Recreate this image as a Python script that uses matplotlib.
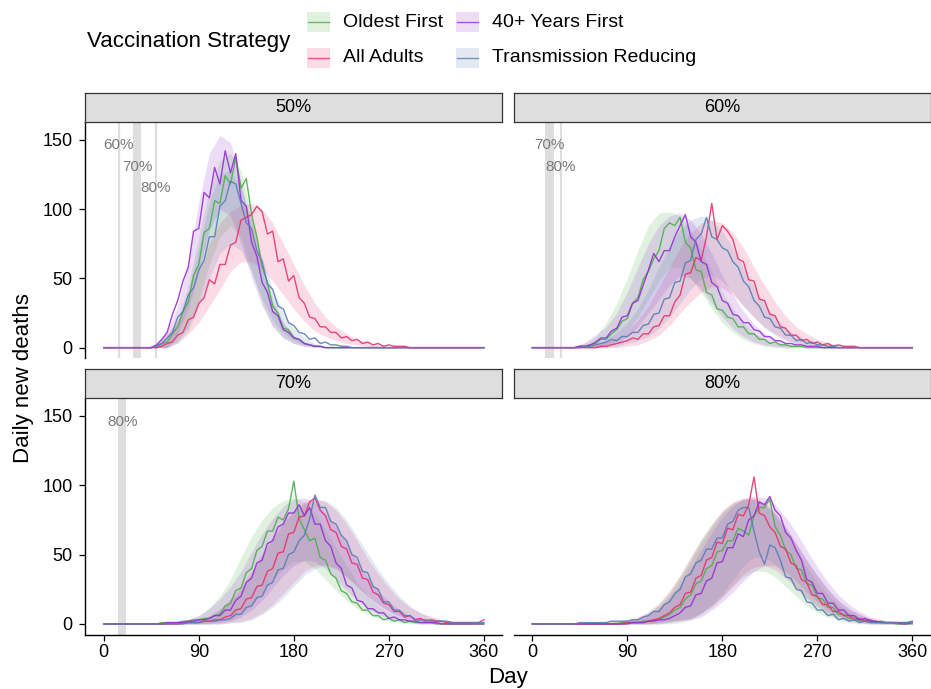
import numpy as np
import matplotlib
matplotlib.use("Agg")
import matplotlib.pyplot as plt
from matplotlib.patches import Rectangle

plt.rcParams['font.family'] = ['Liberation Sans', 'DejaVu Sans']

# ---------------- data ----------------
strategies = ["Oldest First", "All Adults", "40+ Years First", "Transmission Reducing"]
colors = ["#4daf4a", "#e8336e", "#9530d6", "#5a7db5"]
panels = ["50%", "60%", "70%", "80%"]

days = np.arange(0, 361, 5)          # line samples
ribbon_days = np.arange(0, 361, 10)  # ribbon samples

# daily deaths (median), panel 50%
oldest_50 = [0,0,0,0,0,0,0,0,0,0, 1,3,4,10,15,26,33,52,60,83, 86,106,104,124,118,137,115,122,96,80,
             58,47,30,25,14,13,7,6,3,2, 1,1,0,0,0,0,0,0,0,0, 0,0,0,0,0,0,0,0,0,0, 0,0,0,0,0,0,0,0,0,0, 0,0,0]
adults_50 = [0,0,0,0,0,0,0,0,0,0, 0,1,3,4,9,11,20,22,32,36, 49,46,60,60,74,76,92,94,96,102,
             98,82,84,62,64,48,52,36,32,22, 21,15,15,11,11,7,8,5,6,3, 4,2,3,1,2,1,1,1,0,0, 0,0,0,0,0,0,0,0,0,0, 0,0,0]
forty_50 = [0,0,0,0,0,0,0,0,0,0, 2,6,11,24,34,48,58,84,86,112, 108,130,118,142,126,140,106,102,76,66,
            47,40,26,23,13,11,7,6,3,2, 1,1,0,0,0,0,0,0,0,0, 0,0,0,0,0,0,0,0,0,0, 0,0,0,0,0,0,0,0,0,0, 0,0,0]
trans_50 = [0,0,0,0,0,0,0,0,0,0, 1,3,7,11,22,26,38,43,56,63, 80,80,102,106,120,118,104,90,86,70,
            62,46,42,30,28,18,16,11,10,6, 7,3,4,2,2,1,1,0,0,0, 0,0,0,0,0,0,0,0,0,0, 0,0,0,0,0,0,0,0,0,0, 0,0,0]

# panel 60%
oldest_60 = [0,0,0,0,0,0,0,0,0,1, 1,2,3,6,6,10,13,19,21,32, 36,49,55,64,70,86,90,88,94,76,
             72,56,55,40,38,28,27,22,21,15, 15,10,10,6,6,3,4,2,2,1, 1,1,0,0,0,0,0,0,0,0, 0,0,0,0,0,0,0,0,0,0, 0,0,0]
adults_60 = [0,0,0,0,0,0,0,0,0,0, 0,0,0,1,1,2,3,4,5,7, 6,10,10,15,16,23,23,33,38,53,
             54,65,63,80,104,78,88,84,78,64, 62,49,48,35,34,24,23,15,14,9, 9,5,6,3,4,2,3,1,2,1, 1,1,0,0,0,0,0,0,0,0, 0,0,0]
forty_60 = [0,0,0,0,0,0,0,0,0,1, 1,2,4,7,7,12,14,22,23,32, 34,45,56,68,62,70,70,80,88,96,
            80,76,62,60,47,44,34,32,24,23, 18,18,13,12,8,8,5,5,3,3, 2,2,1,1,1,0,0,0,0,0, 0,0,0,0,0,0,0,0,0,0, 0,0,0]
trans_60 = [0,0,0,0,0,0,0,0,0,0, 1,1,2,3,4,6,5,8,8,11, 11,16,17,24,25,35,36,47,48,61,
            63,78,82,94,80,78,72,70,62,58, 48,44,34,30,22,21,15,14,9,9, 5,6,3,4,2,2,1,1,0,0, 0,0,0,0,0,0,0,0,0,0, 0,0,0]

# panel 70%
oldest_70 = [0,0,0,0,0,0,0,0,0,0, 0,1,1,1,1,2,2,3,3,4, 4,6,7,13,15,24,26,37,40,53,
             56,67,67,77,75,83,103,76,68,60, 62,48,46,36,33,24,22,16,15,10, 10,6,6,3,4,2,3,1,2,1, 1,1,1,0,0,0,0,0,0,0, 0,0,0]
adults_70 = [0,0,0,0,0,0,0,0,0,0, 0,0,0,0,0,1,1,1,1,2, 2,3,3,5,6,10,11,18,19,27,
             28,38,40,51,52,65,66,77,78,88, 91,82,78,68,66,56,54,44,43,33, 32,23,21,15,14,9,9,5,6,3, 4,2,3,2,2,1,1,1,1,1, 1,1,3]
forty_70 = [0,0,0,0,0,0,0,0,0,0, 0,0,1,1,1,1,2,2,3,3, 4,6,6,10,10,17,20,30,33,44,
            46,58,60,70,72,80,80,86,78,84, 72,72,60,56,44,40,28,26,17,16, 11,11,8,8,4,5,3,3,2,2, 1,1,1,1,0,0,0,0,0,0, 0,0,0]
trans_70 = [0,0,0,0,0,0,0,0,0,0, 0,0,0,0,0,0,1,1,1,2, 2,2,3,3,4,7,7,12,13,19,
            20,28,30,39,40,50,52,60,64,76, 93,84,84,74,72,64,60,50,48,38, 37,27,25,16,16,10,10,6,6,3, 3,3,2,2,2,2,1,1,1,1, 1,1,1]

# panel 80%
oldest_80 = [0,0,0,0,0,0,0,0,0,0, 0,0,0,0,0,0,0,1,1,1, 1,2,2,3,3,5,7,10,12,18,
             21,29,31,40,42,52,53,60,60,69, 67,64,78,84,84,90,70,64,53,50, 40,39,29,28,19,18,12,12,7,7, 4,5,2,3,1,2,1,1,1,0, 0,0,0]
adults_80 = [0,0,0,0,0,0,0,0,0,0, 0,0,0,0,0,0,0,0,1,1, 1,1,2,3,4,6,8,12,14,22,
             23,33,35,46,48,59,58,69,68,79, 78,86,106,80,78,70,66,56,54,44, 42,32,30,21,20,14,14,9,9,6, 6,3,4,2,3,1,2,1,1,1, 1,1,2]
forty_80 = [0,0,0,0,0,0,0,0,0,0, 0,0,0,0,0,0,0,0,0,1, 1,1,2,2,3,3,4,6,8,12,
            13,21,22,31,33,44,45,55,55,65, 63,75,78,88,86,92,82,78,66,62, 53,46,32,30,22,22,15,15,10,10, 6,6,3,4,2,2,1,1,1,1, 0,0,1]
trans_80 = [0,0,0,0,0,0,0,0,0,1, 1,1,1,1,1,2,2,2,2,3, 3,5,6,9,9,14,16,22,25,34,
            36,44,46,54,54,62,62,72,74,82, 84,84,67,52,43,57,55,46,34,33, 25,24,16,15,10,10,6,7,3,4, 2,3,1,2,1,1,1,1,1,1, 1,1,1]

# ribbons (lower / upper), every 10 days
oldest_50_lo = [0,0,0,0,0,0,0, 5,15,35,60,80,88,80,55,32,16,7,3,1,0, 0,0,0,0,0,0,0,0,0,0,0,0,0,0,0,0]
oldest_50_hi = [0,0,0,0,0,1,4, 20,45,80,115,135,140,128,95,60,35,18,8,3,1, 0,0,0,0,0,0,0,0,0,0,0,0,0,0,0,0]
adults_50_lo = [0,0,0,0,0,0,0, 3,10,18,30,42,55,62,62,57,48,38,28,19,12, 8,5,3,2,1,0,0,0,0,0,0,0,0,0,0,0]
adults_50_hi = [0,0,0,0,0,3,10, 20,35,55,75,90,98,103,104,100,90,75,60,45,32, 22,15,10,6,4,2,1,1,0,0,0,0,0,0,0,0]
forty_50_lo = [0,0,0,0,0,0,0, 10,28,55,85,100,95,75,50,30,15,7,3,1,0, 0,0,0,0,0,0,0,0,0,0,0,0,0,0,0,0]
forty_50_hi = [0,0,0,0,0,3,12, 30,62,105,140,153,148,120,85,55,32,18,9,4,2, 0,0,0,0,0,0,0,0,0,0,0,0,0,0,0,0]
trans_50_lo = [0,0,0,0,0,0,0, 4,12,30,50,68,75,70,55,35,20,10,5,2,1, 0,0,0,0,0,0,0,0,0,0,0,0,0,0,0,0]
trans_50_hi = [0,0,0,0,0,2,8, 18,40,72,105,125,128,115,92,65,42,25,14,7,3, 1,1,0,0,0,0,0,0,0,0,0,0,0,0,0,0]

oldest_60_lo = [0,0,0,0,0,0,0, 2,5,12,22,35,48,58,58,50,40,28,18,11,6, 3,1,0,0,0,0,0,0,0,0,0,0,0,0,0,0]
oldest_60_hi = [0,0,0,0,1,3,8, 18,32,50,70,88,97,98,95,85,70,55,40,28,18, 11,6,3,2,1,0,0,0,0,0,0,0,0,0,0,0]
adults_60_lo = [0,0,0,0,0,0,0, 0,0,1,2,5,9,16,25,33,40,44,43,38,30, 22,15,10,6,3,2,1,0,0,0,0,0,0,0,0,0]
adults_60_hi = [0,0,0,0,0,1,2, 4,7,12,20,30,44,58,72,83,90,92,90,83,72, 58,45,33,23,15,10,6,4,2,1,0,0,0,0,0,0]
forty_60_lo = [0,0,0,0,0,0,0, 1,3,8,15,25,35,45,52,50,42,32,22,14,8, 4,2,1,0,0,0,0,0,0,0,0,0,0,0,0,0]
forty_60_hi = [0,0,0,0,1,4,9, 15,25,40,58,75,88,95,97,92,82,68,52,38,26, 17,10,6,3,2,1,0,0,0,0,0,0,0,0,0,0]
trans_60_lo = [0,0,0,0,0,0,0, 0,1,3,5,8,14,22,32,42,50,52,48,40,30, 22,14,9,5,3,1,0,0,0,0,0,0,0,0,0,0]
trans_60_hi = [0,0,0,0,0,1,3, 6,11,18,28,42,58,73,85,92,95,92,84,72,58, 44,32,22,14,9,5,3,2,1,0,0,0,0,0,0,0]

oldest_70_lo = [0,0,0,0,0,0,0, 0,0,0,1,2,3,7,14,22,32,40,45,45,40, 32,24,17,11,7,4,2,1,0,0,0,0,0,0,0,0]
oldest_70_hi = [0,0,0,0,0,1,2, 2,3,6,12,20,32,48,63,75,84,89,91,88,80, 68,55,42,30,20,13,8,5,3,2,1,0,0,0,0,0]
adults_70_lo = [0,0,0,0,0,0,0, 0,0,0,0,0,1,2,4,8,14,22,30,38,42, 43,40,34,27,20,14,9,6,3,2,1,0,0,0,0,0]
adults_70_hi = [0,0,0,0,0,0,1, 1,2,3,6,11,18,27,38,51,63,74,82,88,90, 88,82,72,60,47,36,26,18,12,8,5,3,2,1,0,0]
forty_70_lo = [0,0,0,0,0,0,0, 0,0,0,0,1,2,5,10,17,26,35,42,46,45, 40,32,24,17,11,7,4,2,1,0,0,0,0,0,0,0]
forty_70_hi = [0,0,0,0,0,1,1, 2,3,6,11,18,27,38,52,65,76,85,90,91,88, 80,70,58,45,34,24,16,10,6,4,2,1,0,0,0,0]
trans_70_lo = [0,0,0,0,0,0,0, 0,0,0,0,0,1,1,3,7,12,19,27,35,40, 42,40,34,27,20,14,9,5,3,2,1,0,0,0,0,0]
trans_70_hi = [0,0,0,0,0,0,1, 1,2,3,5,10,16,25,36,49,61,72,81,87,90, 89,84,75,63,51,39,29,20,13,8,5,3,2,1,0,0]

oldest_80_lo = [0,0,0,0,0,0,0, 0,0,0,0,0,0,0,1,3,7,12,19,27,34, 38,38,34,27,20,13,8,5,3,1,0,0,0,0,0,0]
oldest_80_hi = [0,0,0,0,0,0,1, 1,2,3,4,8,14,23,35,48,61,72,81,87,90, 90,86,78,67,54,41,30,21,14,9,5,3,2,1,0,0]
adults_80_lo = [0,0,0,0,0,0,0, 0,0,0,0,0,1,2,3,4,8,13,20,28,36, 41,42,39,33,26,19,13,8,5,3,1,0,0,0,0,0]
adults_80_hi = [0,0,0,0,0,0,1, 1,2,3,5,9,15,24,35,48,61,72,82,88,91, 91,87,80,70,58,46,35,25,17,11,7,4,2,1,0,0]
forty_80_lo = [0,0,0,0,0,0,0, 0,0,0,0,0,0,1,2,3,5,10,16,23,31, 38,42,42,38,31,23,16,10,6,3,2,1,0,0,0,0]
forty_80_hi = [0,0,0,0,0,0,0, 1,1,2,3,6,11,18,28,40,53,66,77,85,90, 92,91,86,77,66,53,41,30,21,14,9,5,3,2,1,0]
trans_80_lo = [0,0,0,0,0,0,0, 0,0,0,0,0,1,2,3,4,8,14,22,32,42, 48,48,43,35,26,18,12,7,4,2,1,0,0,0,0,0]
trans_80_hi = [0,0,0,0,0,1,1, 1,2,3,4,8,13,21,32,45,58,70,80,87,90, 90,87,80,70,58,46,35,25,17,11,7,4,2,1,0,0]

# coverage milestones per panel: label, start day, end day
milestone_labels = {"50%": ["60%", "70%", "80%"], "60%": ["70%", "80%"], "70%": ["80%"], "80%": []}
milestone_start = {"50%": [14, 27.5, 49], "60%": [12, 27], "70%": [13.3], "80%": []}
milestone_end = {"50%": [14, 35.5, 49], "60%": [20.5, 27], "70%": [21.5], "80%": []}
label_y = [146, 130.5, 115]

lines = {
    "50%": [oldest_50, adults_50, forty_50, trans_50],
    "60%": [oldest_60, adults_60, forty_60, trans_60],
    "70%": [oldest_70, adults_70, forty_70, trans_70],
    "80%": [oldest_80, adults_80, forty_80, trans_80],
}
ribbons = {
    "50%": [(oldest_50_lo, oldest_50_hi), (adults_50_lo, adults_50_hi), (forty_50_lo, forty_50_hi), (trans_50_lo, trans_50_hi)],
    "60%": [(oldest_60_lo, oldest_60_hi), (adults_60_lo, adults_60_hi), (forty_60_lo, forty_60_hi), (trans_60_lo, trans_60_hi)],
    "70%": [(oldest_70_lo, oldest_70_hi), (adults_70_lo, adults_70_hi), (forty_70_lo, forty_70_hi), (trans_70_lo, trans_70_hi)],
    "80%": [(oldest_80_lo, oldest_80_hi), (adults_80_lo, adults_80_hi), (forty_80_lo, forty_80_hi), (trans_80_lo, trans_80_hi)],
}

x_ticks = [0, 90, 180, 270, 360]
y_ticks = [0, 50, 100, 150]

# ---------------- figure ----------------
W, H = 931, 689
fig = plt.figure(figsize=(W / 100, H / 100), dpi=100)

def rect(l, t, r, b):
    return [l / W, 1 - b / H, (r - l) / W, (b - t) / H]

cols = [(85, 502), (513.5, 930.5)]
rows = [(122, 358.4), (398.3, 634.7)]
strip_h = 29

for k, name in enumerate(panels):
    r, c = divmod(k, 2)
    l, rr = cols[c]
    t, b = rows[r]
    ax = fig.add_axes(rect(l, t, rr, b))
    ax.set_xlim(-17.8, 377.2)
    ax.set_ylim(-7.75, 162.75)

    # milestones
    for lab, s, e, yy in zip(milestone_labels[name], milestone_start[name], milestone_end[name], label_y):
        if e - s > 0.5:
            ax.axvspan(s, e, color="#dedede", lw=0, zorder=0)
        else:
            ax.axvline(s, color="#dedede", lw=1.6, zorder=0)
        ax.text((s + e) / 2, yy, lab, ha="center", va="center", fontsize=11, color="#7a7a7a", zorder=5)

    for (lo, hi), col in zip(ribbons[name], colors):
        ax.fill_between(ribbon_days, lo, hi, color=col, alpha=0.17, lw=0, zorder=1)
    for vals, col in zip(lines[name], colors):
        ax.plot(days, vals, color=col, lw=1.0, alpha=0.9, zorder=2)

    for s in ["top", "right"]:
        ax.spines[s].set_visible(False)
    ax.spines["left"].set_visible(c == 0)
    ax.spines["bottom"].set_visible(r == 1)
    for s in ["left", "bottom"]:
        ax.spines[s].set_linewidth(1.0)
    ax.set_xticks(x_ticks)
    ax.set_yticks(y_ticks)
    ax.tick_params(axis="both", length=4, width=0.9, color="black", labelsize=13, labelcolor="black")
    ax.tick_params(axis="y", pad=5)
    ax.tick_params(axis="x", pad=3)
    if c == 1:
        ax.tick_params(axis="y", left=False, labelleft=False)
    if r == 0:
        ax.tick_params(axis="x", bottom=False, labelbottom=False)
    ax.patch.set_alpha(0)

    # strip
    sax = fig.add_axes(rect(l, t - strip_h, rr, t))
    sax.set_xticks([]); sax.set_yticks([])
    sax.set_facecolor("#dedede")
    for s in sax.spines.values():
        s.set_linewidth(0.9)
        s.set_color("#333333")
    sax.text(0.5, 0.5, name, ha="center", va="center", fontsize=13, transform=sax.transAxes)

fig.text(507.5 / W, 1 - 678 / H, "Day", ha="center", va="center", fontsize=16)
fig.text(24 / W, 1 - 378 / H, "Daily new deaths", ha="center", va="center", rotation=90, fontsize=16)

# ---------------- legend ----------------
lax = fig.add_axes([0, 0, 1, 1])
lax.set_xlim(0, W); lax.set_ylim(H, 0); lax.axis("off")
lax.text(87, 41, "Vaccination Strategy", ha="left", va="center", fontsize=16)
key_pos = [(307.3, 12.3), (307.3, 47.5), (456, 12.3), (456, 47.5)]
for (kx, ky), lab, col in zip(key_pos, strategies, colors):
    lax.add_patch(Rectangle((kx, ky), 23, 20, facecolor=col, alpha=0.17, lw=0))
    lax.plot([kx + 1, kx + 22], [ky + 10, ky + 10], color=col, lw=1.0, alpha=0.8)
    lax.text(kx + 35.5, ky + 10, lab, ha="left", va="center", fontsize=14)

fig.savefig("out.png", dpi=100)
